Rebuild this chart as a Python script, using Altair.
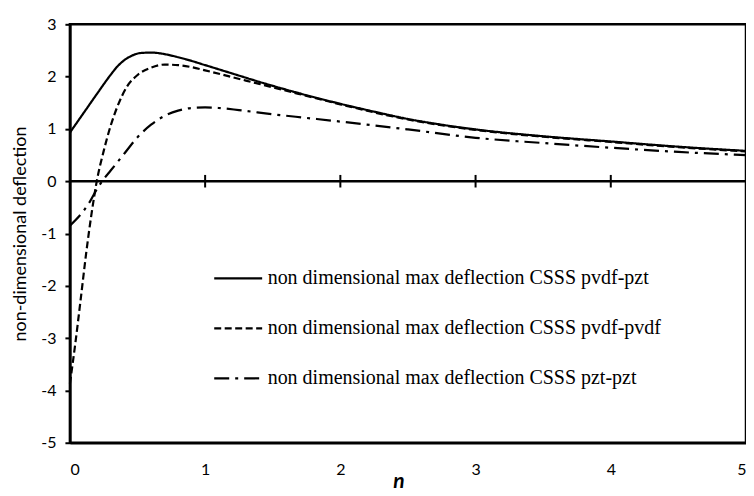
import altair as alt
import pandas as pd

# ---- data ----
series_names = [
    "non dimensional max deflection CSSS pvdf-pzt",
    "non dimensional max deflection CSSS pvdf-pvdf",
    "non dimensional max deflection CSSS pzt-pzt",
]

n_pzt = [0, 0.1, 0.2, 0.3, 0.35, 0.4, 0.45, 0.52, 0.6, 0.7, 0.8, 0.9, 1.0, 1.2, 1.4, 1.6,
         1.8, 2.0, 2.25, 2.5, 2.75, 3.0, 3.5, 4.0, 4.5, 5.0]
y_pzt = [0.93, 1.30, 1.67, 2.03, 2.19, 2.31, 2.39, 2.45, 2.46, 2.43, 2.37, 2.30, 2.22, 2.06, 1.90, 1.75,
         1.61, 1.48, 1.33, 1.19, 1.08, 0.99, 0.86, 0.76, 0.66, 0.58]

n_pvdf = [0, 0.04, 0.08, 0.12, 0.16, 0.2, 0.25, 0.3, 0.35, 0.42, 0.5, 0.6, 0.7, 0.8, 0.9,
          1.0, 1.2, 1.4, 1.6, 1.8, 2.0, 2.5, 3.0, 3.5, 4.0, 4.5, 5.0]
y_pvdf = [-3.87, -3.10, -2.25, -1.38, -0.62, 0.02, 0.58, 1.05, 1.42, 1.80, 2.03, 2.17, 2.23, 2.22, 2.18,
          2.12, 1.99, 1.86, 1.73, 1.60, 1.47, 1.18, 0.98, 0.85, 0.75, 0.65, 0.57]

n_pztpzt = [0, 0.1, 0.15, 0.2, 0.25, 0.3, 0.4, 0.5, 0.6, 0.7, 0.8, 0.9, 1.0, 1.1, 1.25, 1.5,
            1.75, 2.0, 2.5, 3.0, 3.5, 4.0, 4.5, 5.0]
y_pztpzt = [-0.85, -0.57, -0.38, -0.15, 0.04, 0.20, 0.52, 0.84, 1.08, 1.25, 1.35, 1.40, 1.41, 1.40, 1.36, 1.28,
            1.21, 1.14, 0.99, 0.83, 0.73, 0.64, 0.56, 0.50]

x_ticks = [0, 1, 2, 3, 4, 5]
y_ticks = [3, 2, 1, 0, -1, -2, -3, -4, -5]

rows = []
for name, xs, ys in zip(series_names, [n_pzt, n_pvdf, n_pztpzt], [y_pzt, y_pvdf, y_pztpzt]):
    for a, b in zip(xs, ys):
        rows.append({"n": a, "val": b, "series": name})
df = pd.DataFrame(rows)
ticks_df = pd.DataFrame({"n": x_ticks[1:-1]})

x_scale = alt.Scale(domain=[0, 5], nice=False)
y_scale = alt.Scale(domain=[-5, 3], nice=False)

lines = alt.Chart(df).mark_line(color="black", strokeWidth=2.2, interpolate="monotone").encode(
    x=alt.X("n:Q", scale=x_scale, axis=alt.Axis(
        values=x_ticks, title="n", grid=False, tickSize=0, domainColor="black", domainWidth=2.5,
        labelExpr="'' + datum.value",
        labelFont="Lato", labelFontSize=16, labelColor="black", labelPadding=19,
        titleFont="Lato", titleFontSize=21, titleFontWeight="bold", titleFontStyle="italic",
        titleColor="black", titleX=329, titleY=39, titleBaseline="middle", titleAlign="center")),
    y=alt.Y("val:Q", scale=y_scale, axis=alt.Axis(
        values=y_ticks, title="non-dimensional deflection", grid=False, tickSize=5, tickWidth=2,
        tickColor="black", domainColor="black", domainWidth=2.5,
        labelExpr="'' + datum.value",
        labelFont="Lato", labelFontSize=16, labelColor="black", labelPadding=9,
        titleFont="Lato", titleFontSize=18, titleFontWeight="normal", titleColor="black",
        titleX=-49, titleY=209.5, titleBaseline="middle", titleAlign="center", titleAngle=-90)),
    strokeDash=alt.StrokeDash("series:N", scale=alt.Scale(
        domain=series_names, range=[[1, 0], [7, 3.5], [15, 6, 3, 6]]),
        legend=alt.Legend(title=None, orient="none", legendX=143, legendY=229,
                          symbolType="stroke", symbolSize=2304, symbolStrokeWidth=2.2,
                          symbolStrokeColor="black", labelFont="Liberation Serif",
                          labelFontSize=20, labelColor="black", labelOffset=4,
                          rowPadding=14, padding=0, labelLimit=600)),
    order=alt.Order("n:Q"),
)

zero = alt.Chart(pd.DataFrame({"y0": [0]})).mark_rule(color="black", strokeWidth=2.5).encode(
    y=alt.Y("y0:Q", scale=y_scale), x=alt.value(0), x2=alt.value(677))

zticks = alt.Chart(ticks_df).mark_rule(color="black", strokeWidth=2).encode(
    x=alt.X("n:Q", scale=x_scale), y=alt.datum(-0.12), y2=alt.datum(0.12))

chart = alt.layer(zero, zticks, lines).properties(
    width=677, height=419,
    autosize=alt.AutoSizeParams(type="none"),
    padding={"left": 62, "top": 16, "right": 0, "bottom": 53},
    background="white",
).configure_view(stroke="black", strokeWidth=2.5)

chart.save("out.html", embed_options={"renderer": "svg", "actions": False})
